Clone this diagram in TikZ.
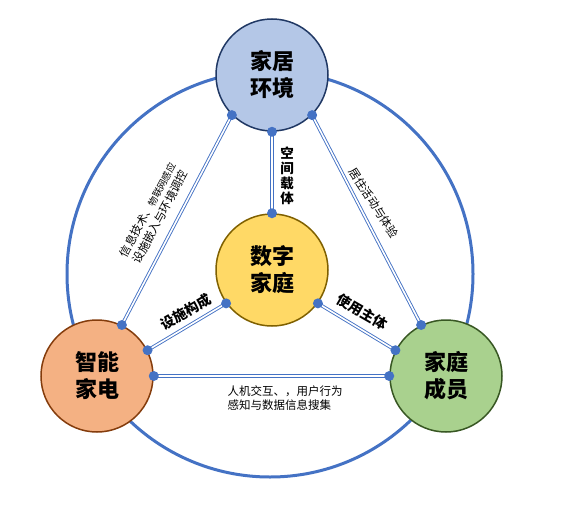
\documentclass[tikz,border=0pt]{standalone}
\usepackage{fontspec}
\newfontfamily\cjk{Noto Sans CJK SC}
\definecolor{ringblue}{HTML}{4472C4}
\definecolor{envfill}{HTML}{B4C7E7}
\definecolor{envline}{HTML}{203864}
\definecolor{homefill}{HTML}{FFD966}
\definecolor{homeline}{HTML}{7F6000}
\definecolor{appfill}{HTML}{F4B183}
\definecolor{appline}{HTML}{843C0C}
\definecolor{memfill}{HTML}{A9D18E}
\definecolor{memline}{HTML}{385723}
\tikzset{
  bignode/.style={circle, minimum size=112pt, inner sep=0pt, line width=1.5pt,
    font=\cjk\bfseries\fontsize{22}{27}\selectfont, align=center},
  link/.style={draw=ringblue, double=white, line width=0.9pt, double distance=1.6pt},
  dot/.style={circle, fill=ringblue, minimum size=10pt, inner sep=0pt},
  boldlabel/.style={font=\cjk\bfseries\fontsize{14}{15}\selectfont, inner sep=0pt},
  smalllabel/.style={font=\cjk\fontsize{11.5}{14.5}\selectfont, inner sep=0pt}
}
\begin{document}
\begin{tikzpicture}[x=1pt, y=-1pt]
\useasboundingbox (0,0) rectangle (572,506);
\draw[ringblue, line width=3pt] (270,274) circle[radius=203pt];
\node[bignode, fill=envfill, draw=envline] (env) at (272,75) {家居\\环境};
\node[bignode, fill=homefill, draw=homeline] (home) at (272,270) {数字\\家庭};
\node[bignode, fill=appfill, draw=appline] (app) at (97,376) {智能\\家电};
\node[bignode, fill=memfill, draw=memline] (mem) at (446,376) {家庭\\成员};
\coordinate (e1) at (env.-135);
\coordinate (e2) at (env.-90);
\coordinate (e3) at (env.-45);
\coordinate (h1) at (home.90);
\coordinate (h2) at (home.-144);
\coordinate (h3) at (home.-36);
\coordinate (a1) at (app.64);
\coordinate (a2) at (app.27);
\coordinate (a3) at (app.0);
\coordinate (m1) at (mem.116);
\coordinate (m2) at (mem.153);
\coordinate (m3) at (mem.180);
\draw[link] (e1) -- (a1);
\draw[link] (e3) -- (m1);
\draw[link] (e2) -- (h1);
\draw[link] (h2) -- (a2);
\draw[link] (h3) -- (m2);
\draw[link] (a3) -- (m3);
\foreach \p in {e1,e2,e3,h1,h2,h3,a1,a2,a3,m1,m2,m3}
  \node[dot] (d\p) at (\p) {};
\node[font=\cjk\bfseries\fontsize{13.5}{15}\selectfont, inner sep=0pt, align=center] (lspace) at (287,176) {空\\间\\载\\体};
\node[boldlabel, rotate=30] (lfac) at (186,312) {设施构成};
\node[boldlabel, rotate=-30] (luse) at (362,312) {使用主体};
\node[smalllabel, align=left, rotate=62] (ltech) at (154,213) {信息技术、{\fontsize{9.5}{11}\selectfont 物联网感应}\\设施嵌入与环境调控};
\node[smalllabel, rotate=-57] (llive) at (374,203) {居住活动与体验};
\node[smalllabel, align=left] (lhci) at (285,398) {人机交互、，用户行为\\感知与数据信息搜集};
\end{tikzpicture}
\end{document}
